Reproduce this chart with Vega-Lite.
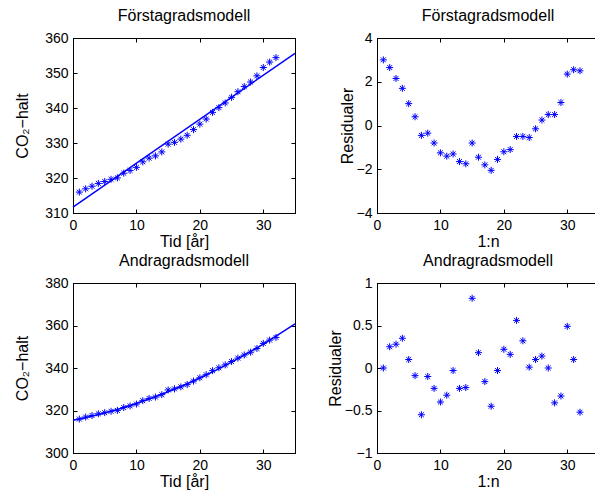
{
  "$schema": "https://vega.github.io/schema/vega-lite/v6.json",
  "padding": {"left": 14, "top": 7, "right": 0, "bottom": 5},
  "background": "white",
  "config": {
    "font": "Liberation Sans",
    "view": {"stroke": "black", "strokeWidth": 1},
    "axis": {
      "grid": false,
      "domainColor": "black",
      "domainWidth": 1,
      "tickColor": "black",
      "tickSize": -4,
      "labelPadding": 9,
      "labelColor": "black",
      "labelFont": "Liberation Sans",
      "labelFontSize": 14,
      "titleColor": "black",
      "titleFont": "Liberation Sans",
      "titleFontSize": 16,
      "titleFontWeight": "normal",
      "titlePadding": 8,
      "labelFlush": false,
      "labelOverlap": false
    },
    "axisX": {"titlePadding": 1},
    "title": {"font": "Liberation Sans", "fontSize": 16, "fontWeight": "normal", "color": "black", "offset": 7}
  },
  "datasets": {
    "co2": [
      {"t": 1, "co2": 315.97}, {"t": 2, "co2": 316.91}, {"t": 3, "co2": 317.64}, {"t": 4, "co2": 318.45},
      {"t": 5, "co2": 318.99}, {"t": 6, "co2": 319.62}, {"t": 7, "co2": 320.04}, {"t": 8, "co2": 321.38},
      {"t": 9, "co2": 322.16}, {"t": 10, "co2": 323.04}, {"t": 11, "co2": 324.62}, {"t": 12, "co2": 325.68},
      {"t": 13, "co2": 326.32}, {"t": 14, "co2": 327.45}, {"t": 15, "co2": 329.68}, {"t": 16, "co2": 330.18},
      {"t": 17, "co2": 331.11}, {"t": 18, "co2": 332.2}, {"t": 19, "co2": 333.83}, {"t": 20, "co2": 335.40},
      {"t": 21, "co2": 336.84}, {"t": 22, "co2": 338.75}, {"t": 23, "co2": 340.11}, {"t": 24, "co2": 341.45},
      {"t": 25, "co2": 343.05}, {"t": 26, "co2": 344.65}, {"t": 27, "co2": 346.12}, {"t": 28, "co2": 347.42},
      {"t": 29, "co2": 349.19}, {"t": 30, "co2": 351.57}, {"t": 31, "co2": 353.12}, {"t": 32, "co2": 354.39}
    ],
    "fit1": [{"t": 0, "co2": 311.68}, {"t": 35, "co2": 355.64}],
    "fit2": [
      {"t": 0, "co2": 315.36}, {"t": 5, "co2": 318.83}, {"t": 10, "co2": 323.30}, {"t": 15, "co2": 328.79},
      {"t": 20, "co2": 335.27}, {"t": 25, "co2": 342.75}, {"t": 30, "co2": 351.24}, {"t": 35, "co2": 360.72}
    ],
    "res1": [
      {"n": 1, "r": 3.0}, {"n": 2, "r": 2.65}, {"n": 3, "r": 2.15}, {"n": 4, "r": 1.7}, {"n": 5, "r": 1.0},
      {"n": 6, "r": 0.4}, {"n": 7, "r": -0.45}, {"n": 8, "r": -0.35}, {"n": 9, "r": -0.8}, {"n": 10, "r": -1.25},
      {"n": 11, "r": -1.4}, {"n": 12, "r": -1.3}, {"n": 13, "r": -1.65}, {"n": 14, "r": -1.75}, {"n": 15, "r": -0.8},
      {"n": 16, "r": -1.45}, {"n": 17, "r": -1.8}, {"n": 18, "r": -2.05}, {"n": 19, "r": -1.55}, {"n": 20, "r": -1.2},
      {"n": 21, "r": -1.1}, {"n": 22, "r": -0.5}, {"n": 23, "r": -0.5}, {"n": 24, "r": -0.55}, {"n": 25, "r": -0.15},
      {"n": 26, "r": 0.25}, {"n": 27, "r": 0.5}, {"n": 28, "r": 0.5}, {"n": 29, "r": 1.05}, {"n": 30, "r": 2.35},
      {"n": 31, "r": 2.55}, {"n": 32, "r": 2.5}
    ],
    "res2": [
      {"n": 1, "r": 0.0}, {"n": 2, "r": 0.25}, {"n": 3, "r": 0.28}, {"n": 4, "r": 0.35}, {"n": 5, "r": 0.1},
      {"n": 6, "r": -0.09}, {"n": 7, "r": -0.55}, {"n": 8, "r": -0.1}, {"n": 9, "r": -0.24}, {"n": 10, "r": -0.4},
      {"n": 11, "r": -0.32}, {"n": 12, "r": -0.03}, {"n": 13, "r": -0.24}, {"n": 14, "r": -0.23}, {"n": 15, "r": 0.82},
      {"n": 16, "r": 0.18}, {"n": 17, "r": -0.16}, {"n": 18, "r": -0.45}, {"n": 19, "r": -0.03}, {"n": 20, "r": 0.22},
      {"n": 21, "r": 0.16}, {"n": 22, "r": 0.56}, {"n": 23, "r": 0.32}, {"n": 24, "r": 0.01}, {"n": 25, "r": 0.1},
      {"n": 26, "r": 0.14}, {"n": 27, "r": 0.0}, {"n": 28, "r": -0.41}, {"n": 29, "r": -0.33}, {"n": 30, "r": 0.49},
      {"n": 31, "r": 0.1}, {"n": 32, "r": -0.52}
    ]
  },
  "columns": 2,
  "spacing": {"row": 70, "column": 82},
  "bounds": "flush",
  "concat": [
    {
      "width": 222, "height": 175,
      "title": "Förstagradsmodell",
      "layer": [
        {
          "data": {"name": "co2"},
          "mark": {"type": "point", "shape": "M-1,0L1,0M0,-1L0,1M-0.7,-0.7L0.7,0.7M-0.7,0.7L0.7,-0.7", "filled": false, "stroke": "#0000ff", "strokeWidth": 1, "size": 49, "opacity": 1},
          "encoding": {
            "x": {"field": "t", "type": "quantitative", "scale": {"domain": [0, 35], "nice": false}, "axis": {"orient": "bottom", "values": [0, 10, 20, 30], "title": "Tid [år]"}},
            "y": {"field": "co2", "type": "quantitative", "scale": {"domain": [310, 360], "nice": false, "zero": false}, "axis": {"orient": "left", "values": [310, 320, 330, 340, 350, 360], "title": "CO₂−halt", "titlePadding": 14}}
          }
        },
        {
          "data": {"name": "fit1"},
          "mark": {"type": "line", "color": "#0000ff", "strokeWidth": 1.5},
          "encoding": {
            "x": {"field": "t", "type": "quantitative", "scale": {"domain": [0, 35], "nice": false}, "axis": {"orient": "top", "values": [0, 10, 20, 30], "labels": false, "title": null}},
            "y": {"field": "co2", "type": "quantitative", "scale": {"domain": [310, 360], "nice": false, "zero": false}, "axis": {"orient": "right", "values": [310, 320, 330, 340, 350, 360], "labels": false, "title": null}}
          }
        }
      ],
      "resolve": {"axis": {"x": "independent", "y": "independent"}}
    },
    {
      "width": 222, "height": 175,
      "title": "Förstagradsmodell",
      "data": {"name": "res1"},
      "layer": [
        {
          "mark": {"type": "point", "shape": "M-1,0L1,0M0,-1L0,1M-0.7,-0.7L0.7,0.7M-0.7,0.7L0.7,-0.7", "filled": false, "stroke": "#0000ff", "strokeWidth": 1, "size": 49, "opacity": 1},
          "encoding": {
            "x": {"field": "n", "type": "quantitative", "scale": {"domain": [0, 35], "nice": false}, "axis": {"orient": "bottom", "values": [0, 10, 20, 30], "title": "1:n"}},
            "y": {"field": "r", "type": "quantitative", "scale": {"domain": [-4, 4], "nice": false}, "axis": {"orient": "left", "values": [-4, -2, 0, 2, 4], "format": "~g", "title": "Residualer", "titlePadding": 1}}
          }
        },
        {
          "mark": {"type": "point", "opacity": 0},
          "encoding": {
            "x": {"field": "n", "type": "quantitative", "scale": {"domain": [0, 35], "nice": false}, "axis": {"orient": "top", "values": [0, 10, 20, 30], "labels": false, "title": null}},
            "y": {"field": "r", "type": "quantitative", "scale": {"domain": [-4, 4], "nice": false}, "axis": {"orient": "right", "values": [-4, -2, 0, 2, 4], "labels": false, "title": null}}
          }
        }
      ],
      "resolve": {"axis": {"x": "independent", "y": "independent"}}
    },
    {
      "width": 222, "height": 170,
      "title": "Andragradsmodell",
      "layer": [
        {
          "data": {"name": "co2"},
          "mark": {"type": "point", "shape": "M-1,0L1,0M0,-1L0,1M-0.7,-0.7L0.7,0.7M-0.7,0.7L0.7,-0.7", "filled": false, "stroke": "#0000ff", "strokeWidth": 1, "size": 49, "opacity": 1},
          "encoding": {
            "x": {"field": "t", "type": "quantitative", "scale": {"domain": [0, 35], "nice": false}, "axis": {"orient": "bottom", "values": [0, 10, 20, 30], "title": "Tid [år]"}},
            "y": {"field": "co2", "type": "quantitative", "scale": {"domain": [300, 380], "nice": false, "zero": false}, "axis": {"orient": "left", "values": [300, 320, 340, 360, 380], "title": "CO₂−halt", "titlePadding": 14}}
          }
        },
        {
          "data": {"name": "fit2"},
          "mark": {"type": "line", "color": "#0000ff", "strokeWidth": 1.5, "interpolate": "monotone"},
          "encoding": {
            "x": {"field": "t", "type": "quantitative", "scale": {"domain": [0, 35], "nice": false}, "axis": {"orient": "top", "values": [0, 10, 20, 30], "labels": false, "title": null}},
            "y": {"field": "co2", "type": "quantitative", "scale": {"domain": [300, 380], "nice": false, "zero": false}, "axis": {"orient": "right", "values": [300, 320, 340, 360, 380], "labels": false, "title": null}}
          }
        }
      ],
      "resolve": {"axis": {"x": "independent", "y": "independent"}}
    },
    {
      "width": 222, "height": 170,
      "title": "Andragradsmodell",
      "data": {"name": "res2"},
      "layer": [
        {
          "mark": {"type": "point", "shape": "M-1,0L1,0M0,-1L0,1M-0.7,-0.7L0.7,0.7M-0.7,0.7L0.7,-0.7", "filled": false, "stroke": "#0000ff", "strokeWidth": 1, "size": 49, "opacity": 1},
          "encoding": {
            "x": {"field": "n", "type": "quantitative", "scale": {"domain": [0, 35], "nice": false}, "axis": {"orient": "bottom", "values": [0, 10, 20, 30], "title": "1:n"}},
            "y": {"field": "r", "type": "quantitative", "scale": {"domain": [-1, 1], "nice": false}, "axis": {"orient": "left", "values": [-1, -0.5, 0, 0.5, 1], "format": "~g", "title": "Residualer", "titlePadding": 1}}
          }
        },
        {
          "mark": {"type": "point", "opacity": 0},
          "encoding": {
            "x": {"field": "n", "type": "quantitative", "scale": {"domain": [0, 35], "nice": false}, "axis": {"orient": "top", "values": [0, 10, 20, 30], "labels": false, "title": null}},
            "y": {"field": "r", "type": "quantitative", "scale": {"domain": [-1, 1], "nice": false}, "axis": {"orient": "right", "values": [-1, -0.5, 0, 0.5, 1], "labels": false, "title": null}}
          }
        }
      ],
      "resolve": {"axis": {"x": "independent", "y": "independent"}}
    }
  ]
}
